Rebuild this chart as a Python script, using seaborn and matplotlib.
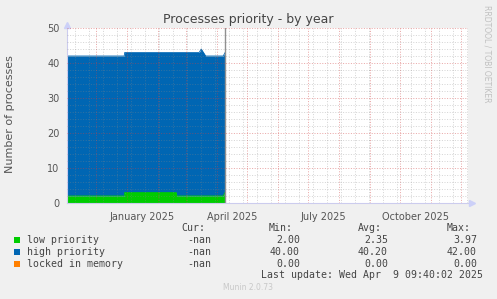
import matplotlib
matplotlib.use("Agg")
import matplotlib.pyplot as plt
import matplotlib.dates as mdates
import matplotlib.transforms as mtransforms
from matplotlib.patches import Rectangle
import seaborn as sns
import pandas as pd

# ---- data ----
dates = ["2024-11-02 00:00", "2024-12-29 12:00", "2024-12-30 00:00",
         "2025-02-19 12:00", "2025-02-20 00:00", "2025-03-14 12:00",
         "2025-03-16 12:00", "2025-03-21 00:00", "2025-04-07 12:00",
         "2025-04-09 09:40"]
low_priority = [2, 2, 3, 3, 2, 2, 2, 2, 2, 3]
high_priority = [40, 40, 40, 40, 41, 41, 42, 40, 40, 40]

series_names = ["low priority", "high priority", "locked in memory"]
series_colors = ["#00CC00", "#0066B3", "#FF8000"]
cur_vals = ["-nan", "-nan", "-nan"]
min_vals = ["2.00", "40.00", "0.00"]
avg_vals = ["2.35", "40.20", "0.00"]
max_vals = ["3.97", "42.00", "0.00"]

month_labels = ["January 2025", "April 2025", "July 2025", "October 2025"]
label_dates = ["2025-01-16 08:00", "2025-04-16 08:00", "2025-07-16 08:00", "2025-10-16 08:00"]
y_ticks = [0, 10, 20, 30, 40, 50]

title = "Processes priority - by year"
ylabel = "Number of processes"
last_update = "Last update: Wed Apr  9 09:40:02 2025"

# ---- figure ----
W, H = 497, 299
sns.set_style("white")
plt.rcParams["font.family"] = ["DejaVu Sans"]
fig = plt.figure(figsize=(W / 100, H / 100), dpi=100, facecolor="#F0F0F0")


def fx(x):
    return x / W


def fy(y):
    return 1 - y / H


ax = fig.add_axes([fx(67), fy(203), 401 / W, 175 / H])
ax.set_facecolor("white")

df = pd.DataFrame({"date": pd.to_datetime(dates), "low": low_priority, "high": high_priority})
df["total"] = df["low"] + df["high"]

ax.fill_between(df["date"], 0, df["low"], color=series_colors[0], linewidth=0, zorder=1)
ax.fill_between(df["date"], df["low"], df["total"], color=series_colors[1], linewidth=0, zorder=1)
sns.lineplot(data=df, x="date", y="total", color=series_colors[1], linewidth=0.6, ax=ax, zorder=1.5)
sns.lineplot(data=df, x="date", y="low", color=series_colors[0], linewidth=0.6, ax=ax, zorder=1.5)

# data end rule
ax.axvline(df["date"].iloc[-1], color="#909090", linewidth=1.0, zorder=2)

# ---- limits ----
jan1 = mdates.date2num(pd.Timestamp("2025-01-01"))
ax.set_xlim(jan1 - 59.7, jan1 + 341.3)
ax.set_ylim(0, 50)

# ---- grid ----
month_starts = pd.date_range("2024-12-01", "2025-12-01", freq="MS")
biweekly = pd.date_range("2024-11-10", "2025-12-07", freq="14D")
ax.set_xticks(month_starts)
ax.set_xticklabels([])
ax.set_xticks(biweekly, minor=True)
ax.set_yticks(y_ticks)
ax.set_yticks(range(0, 51, 2), minor=True)

ax.grid(which="minor", color="#888888", alpha=0.35, linestyle=(0, (1, 1.6)),
        linewidth=0.72, zorder=3)
ax.grid(which="major", color="#d04040", alpha=0.45, linestyle=(0, (1, 1.6)),
        linewidth=0.72, zorder=3)
ax.set_axisbelow(False)

ax.tick_params(axis="x", which="major", length=3, color="#e0a0a0", width=0.7)
ax.tick_params(axis="x", which="minor", length=2, color="#c8c8c8", width=0.7)
ax.tick_params(axis="y", which="major", length=2, color="#e0a0a0", width=0.7,
               labelsize=7, labelcolor="#555555", pad=3.5)
ax.tick_params(axis="y", which="minor", length=2, color="#c8c8c8", width=0.7)

for s in ["top", "right"]:
    ax.spines[s].set_visible(False)
for s in ["left", "bottom"]:
    ax.spines[s].set_color("#ccccee")
    ax.spines[s].set_linewidth(0.8)
ax.set_xlabel("")
ax.set_ylabel("")

# axis arrows
ax.plot([0], [1.02], marker="^", markersize=4, color="#ccd0f8", transform=ax.transAxes, clip_on=False)
ax.plot([1.01], [0], marker=">", markersize=4, color="#ccd0f8", transform=ax.transAxes, clip_on=False)

# x month labels (centred mid-month like rrdtool)
trans = mtransforms.blended_transform_factory(ax.transData, ax.transAxes)
for lab, d in zip(month_labels, label_dates):
    ax.text(mdates.date2num(pd.Timestamp(d)), -0.05, lab, transform=trans,
            ha="center", va="top", fontsize=7, color="#555555")

# ---- texts ----
fig.text(fx(248), fy(19), title, ha="center", va="center", fontsize=9, color="#444444")
fig.text(fx(10), fy(114), ylabel, ha="center", va="center", rotation=90, fontsize=8, color="#555555")
fig.text(fx(487), fy(5), "RRDTOOL / TOBI OETIKER", ha="center", va="top", rotation=270,
         fontsize=5.5, color="#c0c0c0")

mono = dict(fontfamily="DejaVu Sans Mono", fontsize=7.15, color="#444444", va="center")
fig.text(fx(181), fy(228), "Cur:", ha="left", **mono)
fig.text(fx(269), fy(228), "Min:", ha="left", **mono)
fig.text(fx(358), fy(228), "Avg:", ha="left", **mono)
fig.text(fx(447), fy(228), "Max:", ha="left", **mono)

row_y = [240, 252, 264]
for i, name in enumerate(series_names):
    y = row_y[i]
    fig.patches.append(Rectangle((fx(14), fy(y + 3)), 6 / W, 6 / H, transform=fig.transFigure,
                                 facecolor=series_colors[i], edgecolor="none"))
    fig.text(fx(27), fy(y), name, ha="left", **mono)
    fig.text(fx(211), fy(y), cur_vals[i], ha="right", **mono)
    fig.text(fx(300), fy(y), min_vals[i], ha="right", **mono)
    fig.text(fx(388), fy(y), avg_vals[i], ha="right", **mono)
    fig.text(fx(477), fy(y), max_vals[i], ha="right", **mono)

fig.text(fx(483), fy(275), last_update, ha="right", **mono)
fig.text(fx(248), fy(288), "Munin 2.0.73", ha="center", va="center", fontsize=5.5, color="#c8c8c8")

fig.savefig("out.png", dpi=100, facecolor=fig.get_facecolor())
